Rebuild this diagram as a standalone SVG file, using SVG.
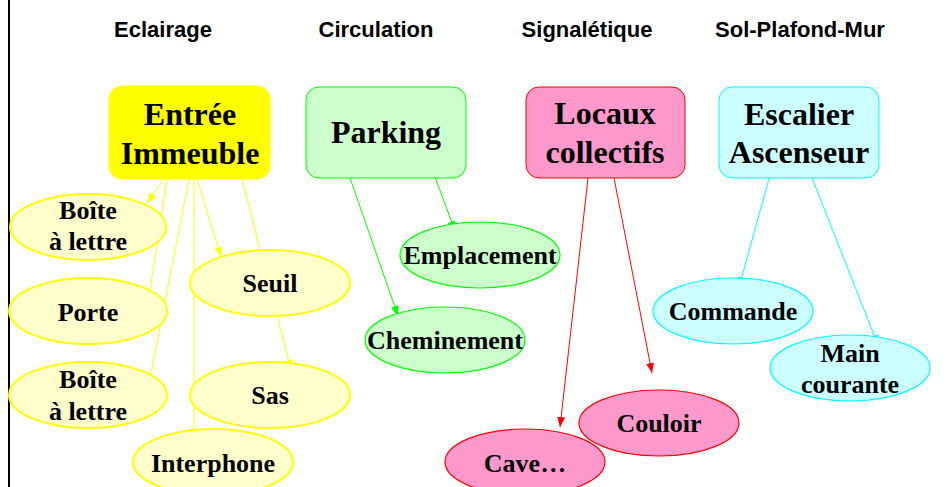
<svg xmlns="http://www.w3.org/2000/svg" width="952" height="487" viewBox="0 0 952 487">
  <style>
    .hdr { font-family: "Liberation Sans", Arial, sans-serif; font-weight: bold; font-size: 22px; fill: #000; text-anchor: middle; }
    .big { font-family: "Liberation Serif", "Times New Roman", serif; font-weight: bold; font-size: 32px; fill: #000; text-anchor: middle; }
    .sm { font-family: "Liberation Serif", "Times New Roman", serif; font-weight: bold; font-size: 26px; fill: #000; text-anchor: middle; }
    .boxY { fill: #FFFF00; stroke: #FFFF00; stroke-width: 1; }
    .boxG { fill: #CCFFCC; stroke: #00FF00; stroke-width: 1; }
    .boxR { fill: #FF99CC; stroke: #FF0000; stroke-width: 1; }
    .boxC { fill: #CCFFFF; stroke: #00FFFF; stroke-width: 1; }
    .elY { fill: #FFFFCC; stroke: #FFFF00; stroke-width: 2; }
    .elG { fill: #CCFFCC; stroke: #00FF00; stroke-width: 1.2; }
    .elR { fill: #FF99CC; stroke: #FF0000; stroke-width: 1.2; }
    .elC { fill: #CCFFFF; stroke: #00FFFF; stroke-width: 1.2; }
    .lY { stroke: #FFFF00; stroke-width: 1; fill: none; marker-end: url(#aY); }
    .lG { stroke: #00FF00; stroke-width: 1; fill: none; marker-end: url(#aG); }
    .lR { stroke: #FF0000; stroke-width: 1; fill: none; marker-end: url(#aR); }
    .lC { stroke: #00FFFF; stroke-width: 1; fill: none; marker-end: url(#aC); }
  </style>
  <defs>
    <marker id="aY" viewBox="0 0 10 8" refX="10" refY="4" markerWidth="10" markerHeight="8" markerUnits="userSpaceOnUse" orient="auto"><path d="M0,0 L10,4 L0,8 Z" fill="#FFFF00"/></marker>
    <marker id="aG" viewBox="0 0 10 8" refX="10" refY="4" markerWidth="10" markerHeight="8" markerUnits="userSpaceOnUse" orient="auto"><path d="M0,0 L10,4 L0,8 Z" fill="#00FF00"/></marker>
    <marker id="aR" viewBox="0 0 10 8" refX="10" refY="4" markerWidth="10" markerHeight="8" markerUnits="userSpaceOnUse" orient="auto"><path d="M0,0 L10,4 L0,8 Z" fill="#FF0000"/></marker>
    <marker id="aC" viewBox="0 0 10 8" refX="10" refY="4" markerWidth="10" markerHeight="8" markerUnits="userSpaceOnUse" orient="auto"><path d="M0,0 L10,4 L0,8 Z" fill="#00FFFF"/></marker>
  </defs>

  <rect width="952" height="487" fill="#FFFFFF"/>
  <!-- left margin rule -->
  <line x1="9" y1="0" x2="9" y2="487" stroke="#000" stroke-width="2"/>

  <!-- column headings -->
  <g id="headings">
    <text class="hdr" x="163" y="37">Eclairage</text>
    <text class="hdr" x="376" y="37">Circulation</text>
    <text class="hdr" x="587" y="37">Signalétique</text>
    <text class="hdr" x="800" y="37">Sol-Plafond-Mur</text>
  </g>

  <!-- connectors -->
  <g id="connectors">
    <line class="lY" x1="164" y1="179" x2="147" y2="203"/>
    <line class="lY" x1="167" y1="179" x2="146" y2="316"/>
    <line class="lY" x1="189" y1="179" x2="146" y2="398"/>
    <line class="lY" x1="194" y1="179" x2="194" y2="439"/>
    <line class="lY" x1="197" y1="179" x2="221" y2="257"/>
    <line class="lY" x1="242" y1="179" x2="291" y2="370"/>
    <line class="lG" x1="435" y1="177" x2="455" y2="231"/>
    <line class="lG" x1="350" y1="178" x2="398" y2="316"/>
    <line class="lR" x1="588" y1="178" x2="560" y2="427"/>
    <line class="lR" x1="614" y1="178" x2="652" y2="373"/>
    <line class="lC" x1="770" y1="175" x2="739" y2="287"/>
    <line class="lC" x1="812" y1="178" x2="878" y2="345"/>
  </g>

  <!-- main boxes -->
  <g id="entree-immeuble">
    <rect class="boxY" x="109" y="86" width="161" height="93" rx="13"/>
    <text class="big" x="190" y="125">Entrée</text>
    <text class="big" x="190" y="164">Immeuble</text>
  </g>
  <g id="parking">
    <rect class="boxG" x="306" y="87" width="160" height="91" rx="13"/>
    <text class="big" x="386" y="143">Parking</text>
  </g>
  <g id="locaux-collectifs">
    <rect class="boxR" x="526" y="87" width="159" height="91" rx="13"/>
    <text class="big" x="605" y="124">Locaux</text>
    <text class="big" x="605" y="163">collectifs</text>
  </g>
  <g id="escalier-ascenseur">
    <rect class="boxC" x="719" y="87" width="160" height="91" rx="13"/>
    <text class="big" x="799" y="125">Escalier</text>
    <text class="big" x="799" y="163">Ascenseur</text>
  </g>

  <!-- Eclairage items -->
  <g id="boite-lettre-1">
    <ellipse class="elY" cx="88" cy="227" rx="78" ry="33"/>
    <text class="sm" x="88" y="219">Boîte</text>
    <text class="sm" x="88" y="250">à lettre</text>
  </g>
  <g id="porte">
    <ellipse class="elY" cx="88" cy="311" rx="79" ry="33"/>
    <text class="sm" x="88" y="321">Porte</text>
  </g>
  <g id="boite-lettre-2">
    <ellipse class="elY" cx="88" cy="395" rx="79" ry="33"/>
    <text class="sm" x="88" y="388">Boîte</text>
    <text class="sm" x="88" y="420">à lettre</text>
  </g>
  <g id="seuil">
    <ellipse class="elY" cx="270" cy="283" rx="80" ry="33"/>
    <text class="sm" x="270" y="292">Seuil</text>
  </g>
  <g id="sas">
    <ellipse class="elY" cx="270" cy="395" rx="80" ry="33"/>
    <text class="sm" x="270" y="404">Sas</text>
  </g>
  <g id="interphone">
    <ellipse class="elY" cx="213" cy="462" rx="80" ry="33"/>
    <text class="sm" x="213" y="472">Interphone</text>
  </g>

  <!-- Circulation items -->
  <g id="emplacement">
    <ellipse class="elG" cx="480" cy="255" rx="80" ry="33"/>
    <text class="sm" x="480" y="264">Emplacement</text>
  </g>
  <g id="cheminement">
    <ellipse class="elG" cx="445" cy="340" rx="80" ry="33"/>
    <text class="sm" x="445" y="349">Cheminement</text>
  </g>

  <!-- Signalétique items -->
  <g id="couloir">
    <ellipse class="elR" cx="659" cy="423" rx="80" ry="33"/>
    <text class="sm" x="659" y="432">Couloir</text>
  </g>
  <g id="cave">
    <ellipse class="elR" cx="525" cy="462" rx="80" ry="33"/>
    <text class="sm" x="525" y="472">Cave…</text>
  </g>

  <!-- Sol-Plafond-Mur items -->
  <g id="commande">
    <ellipse class="elC" cx="733" cy="311" rx="80" ry="33"/>
    <text class="sm" x="733" y="320">Commande</text>
  </g>
  <g id="main-courante">
    <ellipse class="elC" cx="850" cy="368" rx="80" ry="33"/>
    <text class="sm" x="850" y="362">Main</text>
    <text class="sm" x="850" y="393">courante</text>
  </g>
</svg>
